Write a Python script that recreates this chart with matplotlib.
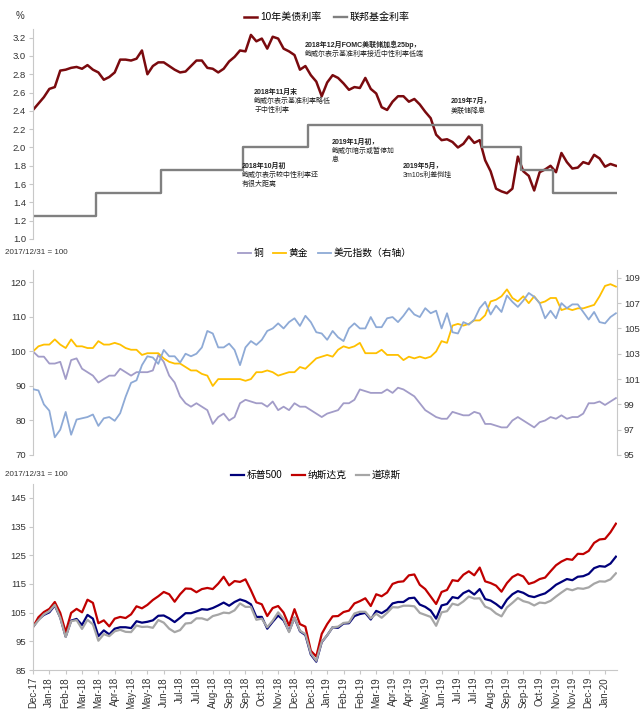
import numpy as np
import matplotlib.pyplot as plt

plt.rcParams['font.family'] = ['Liberation Sans', 'Noto Sans CJK SC']
plt.rcParams['axes.unicode_minus'] = False

#=============================================================================
#                     DONNÉES (lecture hebdomadaire du graphique)
#=============================================================================

# 10年美债利率 (%), un point par semaine depuis 2017-12-29
us10y = [2.41, 2.48, 2.55, 2.64, 2.66, 2.84, 2.85, 2.87, 2.88, 2.86,
         2.90, 2.85, 2.82, 2.74, 2.77, 2.82, 2.96, 2.96, 2.95, 2.97,
         3.06, 2.80, 2.89, 2.93, 2.93, 2.89, 2.85, 2.82, 2.83, 2.89,
         2.95, 2.95, 2.87, 2.86, 2.82, 2.86, 2.94, 2.99, 3.06, 3.05,
         3.23, 3.16, 3.19, 3.08, 3.21, 3.19, 3.08, 3.05, 3.01, 2.85,
         2.89, 2.79, 2.72, 2.56, 2.71, 2.79, 2.76, 2.70, 2.63, 2.66,
         2.65, 2.76, 2.64, 2.59, 2.44, 2.41, 2.50, 2.56, 2.56, 2.50,
         2.53, 2.47, 2.39, 2.32, 2.14, 2.08, 2.09, 2.06, 2.00, 2.04,
         2.12, 2.05, 2.08, 1.86, 1.74, 1.55, 1.52, 1.50, 1.55, 1.90,
         1.74, 1.69, 1.53, 1.73, 1.76, 1.80, 1.73, 1.94, 1.84, 1.77,
         1.78, 1.84, 1.82, 1.92, 1.88, 1.79, 1.82, 1.80]

# 联邦基金利率 (%) : niveaux et nombre de semaines à chaque niveau
ffr_levels = [1.25, 1.50, 1.75, 2.00, 2.25, 2.00, 1.75, 1.50]
ffr_weeks = [12, 12, 15, 12, 32, 7, 6, 12]

# 铜 / 黄金 (2017/12/31 = 100), 美元指数 (axe de droite)
copper = [100, 98.5, 98.5, 96.5, 96.5, 97, 92, 97.5, 98, 95,
          94, 93, 91, 92, 93, 93, 95, 94, 93, 94,
          94, 94, 94.5, 99, 97, 93, 91, 87, 85, 84,
          85, 84, 83, 79, 81, 82, 80, 81, 85, 86,
          85.5, 85, 85, 84, 85.5, 83, 84, 83, 85, 84,
          84, 83, 82, 81, 82, 82.5, 83, 85, 85, 86,
          89, 88.5, 88, 88, 88, 89, 88, 89.5, 89, 88,
          87, 85, 83, 82, 81, 80.5, 80.5, 82.5, 82, 81.5,
          81.5, 82.5, 82, 79, 79, 78.5, 78, 78, 80, 81,
          80, 79, 78, 79.5, 80, 81, 80.5, 81.5, 80.5, 81,
          81, 82, 85, 85, 85.5, 84.5, 85.5, 86.5]

gold = [100, 101.5, 102, 102, 103.5, 102, 101, 103.5, 101.5, 101.5,
        101, 101, 103, 102, 102, 102.5, 102, 101, 100.5, 100.5,
        99, 99.5, 99.5, 99.5, 98, 97, 96.5, 96.5, 95.5, 94.5,
        94.5, 93.5, 93, 90, 92, 92, 92, 92, 92, 91.5,
        92, 94, 94, 94.5, 94, 93, 93.5, 94, 94, 95.5,
        95, 96.5, 98, 98.5, 99, 98.5, 100.5, 101.5, 101, 101.5,
        102.5, 99.5, 99.5, 99.5, 100.5, 99, 99, 99, 97.5, 98.5,
        98, 98.5, 98, 98.5, 100, 103, 102.5, 107.5, 108, 107.5,
        108, 109, 109, 110.5, 114.5, 115, 116, 118, 115.5, 114.5,
        116, 114, 116, 114, 114.5, 115.5, 115.5, 112, 112.5, 112,
        112.5, 112.5, 113, 113.5, 116, 119, 119.5, 118.8]

usd_index = [100.2, 100.1, 99.0, 98.5, 96.4, 97.0, 98.4, 96.6, 97.8, 97.9,
             98.0, 98.2, 97.3, 97.9, 98.0, 97.7, 98.3, 99.6, 100.7, 100.9,
             102.1, 102.8, 102.7, 102.2, 103.3, 102.8, 102.8, 102.3, 103.0, 102.8,
             103.0, 103.5, 104.8, 104.6, 103.5, 103.5, 103.8, 103.3, 102.1, 103.5,
             104.0, 103.7, 104.1, 104.8, 105.0, 105.4, 105.0, 105.5, 105.8, 105.2,
             106.0, 105.5, 104.7, 104.6, 104.1, 104.8, 104.3, 104.0, 105.0, 105.4,
             105.0, 105.0, 105.9, 105.1, 105.1, 105.8, 105.9, 105.5, 106.0, 106.6,
             106.1, 105.9, 106.6, 106.2, 106.4, 105.0, 106.2, 104.7, 104.6, 105.5,
             105.3, 105.7, 106.6, 107.1, 106.1, 106.8, 106.3, 107.6, 107.1, 106.7,
             107.2, 107.8, 107.5, 107.0, 105.8, 106.4, 105.8, 107.0, 106.6, 106.9,
             106.9, 106.3, 105.7, 106.3, 105.5, 105.4, 105.9, 106.2]

# 标普500 / 纳斯达克 / 道琼斯 (2017/12/31 = 100)
spx = [100, 102.6, 104.2, 105.1, 107.5, 103.3, 96.6, 102.2, 102.8, 100.7,
       104.2, 102.9, 96.8, 98.8, 97.4, 99.4, 99.9, 99.9, 99.6, 102.0,
       101.5, 101.8, 102.3, 103.9, 104.0, 103.0, 101.7, 103.2, 104.8, 104.8,
       105.4, 106.2, 106.0, 106.6, 107.5, 108.5, 107.4, 108.7, 109.6, 109.0,
       107.9, 103.5, 103.5, 99.4, 101.8, 104.0, 102.3, 98.5, 103.2, 98.5,
       97.2, 90.4, 87.9, 94.7, 97.1, 99.9, 99.7, 101.2, 101.3, 103.8,
       104.5, 104.9, 102.6, 105.6, 104.8, 106.0, 108.2, 108.7, 108.7, 110.0,
       110.2, 107.8, 107.0, 105.7, 102.9, 107.5, 108.0, 110.4, 110.0, 111.8,
       112.7, 111.3, 113.2, 109.7, 109.2, 108.0, 106.5, 109.5, 111.4, 112.5,
       111.9, 110.8, 110.4, 111.1, 111.7, 113.1, 114.7, 115.7, 116.7, 116.3,
       117.5, 117.7, 118.5, 120.5, 121.2, 121.0, 122.1, 124.5]

nasdaq = [100, 103.4, 105.2, 106.3, 108.7, 104.9, 98.2, 104.9, 106.3, 105.1,
          109.5, 108.4, 101.3, 102.3, 100.2, 102.9, 103.5, 103.1, 104.4, 107.2,
          106.5, 107.7, 109.4, 110.7, 112.2, 111.4, 108.8, 111.4, 113.4, 113.3,
          112.1, 113.2, 113.6, 113.2, 115.1, 117.5, 114.5, 116.0, 115.7, 116.6,
          112.8, 108.6, 107.9, 103.8, 106.6, 107.3, 105.0, 100.5, 106.2, 101.0,
          100.1, 91.7, 89.7, 97.6, 101.0, 103.7, 103.8, 105.2, 105.7, 108.2,
          109.0, 110.0, 107.3, 111.4, 110.7, 112.0, 115.0, 115.7, 115.9, 118.0,
          118.3, 114.7, 113.2, 110.6, 108.0, 112.2, 112.9, 116.3, 116.0, 118.2,
          119.4, 118.0, 120.7, 115.9, 115.3, 114.4, 112.3, 115.3, 117.4, 118.4,
          117.6, 115.0, 115.6, 116.7, 117.2, 119.4, 121.5, 122.8, 123.7, 123.4,
          125.5, 125.4, 126.5, 129.3, 130.5, 130.7, 133.0, 136.0]

dow = [100, 102.3, 104.4, 105.5, 107.7, 103.2, 96.5, 102.0, 102.4, 99.3,
       102.5, 100.9, 95.2, 97.5, 96.8, 98.5, 99.0, 98.3, 98.2, 100.5,
       100.0, 100.1, 99.7, 102.4, 101.5, 99.4, 98.2, 98.9, 101.2, 101.4,
       103.0, 103.0, 102.4, 103.8, 104.3, 105.0, 104.8, 105.8, 108.2, 107.0,
       107.0, 102.5, 102.9, 99.9, 102.2, 105.1, 102.8, 98.2, 103.3, 98.7,
       97.5, 90.8, 88.2, 94.8, 97.1, 99.9, 100.1, 101.4, 101.6, 104.7,
       105.3, 105.3, 103.0, 104.6, 103.2, 104.9, 106.9, 106.8, 107.4, 107.4,
       107.2, 104.9, 104.2, 103.5, 100.4, 105.1, 105.5, 108.1, 107.6, 108.9,
       110.6, 109.9, 110.0, 107.1, 106.3, 104.7, 103.7, 106.8, 108.4, 110.1,
       109.0, 108.5, 107.5, 108.5, 108.3, 109.1, 110.6, 112.0, 113.3, 112.8,
       113.5, 113.3, 113.8, 115.1, 115.9, 115.8, 116.6, 118.7]

tick_labels = ['Dec-17', 'Jan-18', 'Feb-18', 'Mar-18', 'Mar-18', 'Apr-18',
               'May-18', 'May-18', 'Jun-18', 'Jul-18', 'Jul-18', 'Aug-18',
               'Sep-18', 'Sep-18', 'Oct-18', 'Nov-18', 'Dec-18', 'Dec-18',
               'Jan-19', 'Feb-19', 'Feb-19', 'Mar-19', 'Apr-19', 'Apr-19',
               'May-19', 'Jun-19', 'Jul-19', 'Jul-19', 'Aug-19', 'Sep-19',
               'Sep-19', 'Oct-19', 'Nov-19', 'Nov-19', 'Dec-19', 'Jan-20']

# annotations du premier graphique : (x en jours de bourse, y en %, lignes)
notes = [(249, 3.12, ['2018年12月FOMC美联储加息25bp，', '鲍威尔表示基准利率接近中性利率低端']),
         (203, 2.60, ['2018年11月末', '鲍威尔表示基准利率略低', '于中性利率']),
         (274, 2.06, ['2019年1月初，', '鲍威尔暗示或暂停加', '息']),
         (192, 1.79, ['2018年10月初', '鲍威尔表示较中性利率还', '有很大距离']),
         (339, 1.79, ['2019年5月，', '3m10s利差倒挂']),
         (383, 2.50, ['2019年7月，', '美联储降息'])]

#=============================================================================
#                               FIGURE
#=============================================================================

x = np.arange(len(us10y)) * 5          # 5 jours de bourse par semaine
ffr = np.repeat(ffr_levels, ffr_weeks)
tick_pos = np.arange(len(tick_labels)) * 15

spine_c = '#C8C8C8'
txt_c = '#333333'

fig = plt.figure(figsize=(6.4, 7.09), dpi=100)
L, W = 33 / 640, 584 / 640
ax1 = fig.add_axes([L, 1 - 239 / 709, W, 210.5 / 709])
ax2 = fig.add_axes([L, 1 - 455 / 709, W, 185.3 / 709])
ax3 = fig.add_axes([L, 1 - 670 / 709, W, 186.5 / 709])


def style(ax):
    for s in ['top', 'right', 'bottom']:
        ax.spines[s].set_visible(False)
    ax.spines['left'].set_color(spine_c)
    ax.tick_params(axis='y', length=3, color=spine_c, labelsize=6.8,
                   labelcolor=txt_c, pad=2)
    ax.set_xlim(0, 536)
    ax.set_xticks([])


# ---------------- panneau 1 : taux ----------------
style(ax1)
l1, = ax1.plot(x, us10y, color='#7A0A0E', lw=1.8)
l2, = ax1.step(x, ffr, where='mid', color='#808080', lw=1.7)
ax1.set_ylim(1.0, 3.3)
ax1.set_yticks(np.arange(1.0, 3.21, 0.2))
ax1.set_yticklabels(['%.1f' % v for v in np.arange(1.0, 3.21, 0.2)])
fig.text(20 / 640, 1 - 16 / 709, '%', fontsize=7, color=txt_c,
         ha='center', va='center')
ax1.legend([l1, l2], ['10年美债利率', '联邦基金利率'], loc='center',
           bbox_to_anchor=(327 / 640, 1 - 17 / 709), bbox_transform=fig.transFigure,
           ncol=2, frameon=False, fontsize=7.2, handlelength=1.3,
           handletextpad=0.3, columnspacing=1.2)

for nx, ny, lines in notes:
    for k, s in enumerate(lines):
        ax1.annotate(s, (nx, ny), xytext=(0, -k * 6.5), textcoords='offset points',
                     fontsize=5, fontweight='bold' if k == 0 else 'normal',
                     ha='left', va='center', color='#222222')

# ---------------- panneau 2 : matières premières ----------------
style(ax2)
c1, = ax2.plot(x, copper, color='#A29CC8', lw=1.3)
c2, = ax2.plot(x, gold, color='#FFC000', lw=1.3)
ax2.set_ylim(70, 123.7)
ax2.set_yticks(np.arange(70, 121, 10))

ax2r = ax2.twinx()
for s in ['top', 'left', 'bottom']:
    ax2r.spines[s].set_visible(False)
ax2r.spines['right'].set_color(spine_c)
c3, = ax2r.plot(x, usd_index, color='#8EAAD6', lw=1.3)
ax2r.set_ylim(95, 109.64)
ax2r.set_yticks(np.arange(95, 110, 2))
ax2r.tick_params(axis='y', length=3, color=spine_c, labelsize=6.8,
                 labelcolor=txt_c, pad=2)
ax2r.set_xlim(0, 536)

fig.text(5 / 640, 1 - 253 / 709, '2017/12/31 = 100', fontsize=5.8, color=txt_c,
         ha='left', va='center')
ax2.legend([c1, c2, c3], ['铜', '黄金', '美元指数（右轴）'], loc='center',
           bbox_to_anchor=(325 / 640, 1 - 253 / 709), bbox_transform=fig.transFigure,
           ncol=3, frameon=False, fontsize=7, handlelength=1.3,
           handletextpad=0.3, columnspacing=1.0)

# ---------------- panneau 3 : indices boursiers ----------------
style(ax3)
ax3.spines['bottom'].set_visible(True)
ax3.spines['bottom'].set_color(spine_c)
s1, = ax3.plot(x, spx, color='#00007A', lw=1.6)
s2, = ax3.plot(x, nasdaq, color='#C00000', lw=1.6)
s3, = ax3.plot(x, dow, color='#A6A6A6', lw=1.6)
ax3.set_ylim(85, 150)
ax3.set_yticks(np.arange(85, 146, 10))
ax3.set_xticks(tick_pos)
ax3.set_xticklabels(tick_labels, rotation=90, fontsize=7, color=txt_c)
ax3.tick_params(axis='x', length=3, color=spine_c, pad=2)

fig.text(5 / 640, 1 - 475 / 709, '2017/12/31 = 100', fontsize=5.8, color=txt_c,
         ha='left', va='center')
ax3.legend([s1, s2, s3], ['标普500', '纳斯达克', '道琼斯'], loc='center',
           bbox_to_anchor=(316 / 640, 1 - 475 / 709), bbox_transform=fig.transFigure,
           ncol=3, frameon=False, fontsize=7, handlelength=1.3,
           handletextpad=0.3, columnspacing=1.0)

fig.savefig('out.png', dpi=100)
